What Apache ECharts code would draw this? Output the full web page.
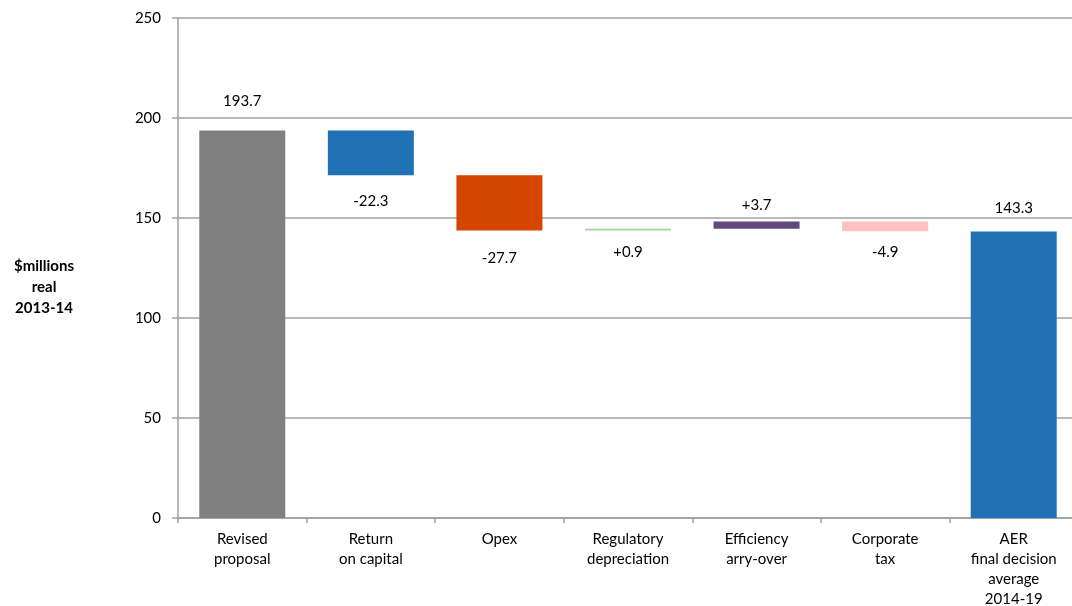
<!DOCTYPE html>
<html>
<head>
<meta charset="utf-8">
<title>Revenue waterfall</title>
<script src="https://cdn.jsdelivr.net/npm/echarts@6/dist/echarts.min.js"></script>
<style>
  html, body { margin: 0; padding: 0; background: #fff; overflow: hidden; }
  #chart { width: 1072px; height: 606px; }
</style>
</head>
<body>
<div id="chart"></div>
<script>
// Waterfall steps: first and last entries are totals, the rest are changes
var categories = [
  'Revised\nproposal',
  'Return\non capital',
  'Opex',
  'Regulatory\ndepreciation',
  'Efficiency\narry-over',
  'Corporate\ntax',
  'AER\nfinal decision\naverage\n2014-19'
];
var stepValues = [193.7, -22.3, -27.7, 0.9, 3.7, -4.9, 143.3];
var isTotal = [true, false, false, false, false, false, true];
var barColors = ['#808080', '#2171b5', '#d44500', '#a0d89b', '#604a7b', '#ffc1c1', '#2171b5'];
var yTicks = { min: 0, max: 250, interval: 50 };

// Label placement per step: side of the bar and gap in px
var labelSide = ['top', 'bottom', 'bottom', 'bottom', 'top', 'bottom', 'top'];
var labelGap = [22, 18, 20, 14, 9, 13, 16];

var baseData = [];
var barData = [];
var running = 0;
for (var i = 0; i < stepValues.length; i++) {
  var v = stepValues[i];
  var lo, hi;
  if (isTotal[i]) {
    lo = 0; hi = v; running = v;
  } else {
    var next = running + v;
    lo = Math.min(running, next);
    hi = Math.max(running, next);
    running = next;
  }
  var text = isTotal[i] ? v.toFixed(1) : (v > 0 ? '+' : '') + v.toFixed(1);
  baseData.push(lo);
  barData.push({
    value: +(hi - lo).toFixed(2),
    itemStyle: { color: barColors[i] },
    label: { position: labelSide[i], distance: labelGap[i], formatter: text }
  });
}

var fontFamily = 'Lato, "Open Sans", sans-serif';
var chart = echarts.init(document.getElementById('chart'), null, { renderer: 'canvas' });
chart.setOption({
  animation: false,
  textStyle: { fontFamily: fontFamily },
  // plot runs slightly past the right edge of the canvas
  grid: { left: 178, width: 900, top: 18, bottom: 88, containLabel: false, outerBoundsMode: 'none' },
  graphic: [{
    type: 'text',
    x: 44,
    y: 287,
    style: {
      text: '$millions\nreal\n2013-14',
      font: 'bold 15px ' + fontFamily,
      fill: '#000',
      align: 'center',
      verticalAlign: 'middle',
      lineHeight: 21
    }
  }],
  xAxis: {
    type: 'category',
    data: categories,
    axisLine: { lineStyle: { color: '#a0a0a0', width: 1.5 } },
    axisTick: { show: true, alignWithLabel: false, length: 5, lineStyle: { color: '#a0a0a0', width: 1.5 } },
    axisLabel: { color: '#000', fontSize: 15, lineHeight: 20, margin: 11, interval: 0, fontFamily: fontFamily }
  },
  yAxis: {
    type: 'value',
    min: yTicks.min,
    max: yTicks.max,
    interval: yTicks.interval,
    axisLine: { show: true, lineStyle: { color: '#a0a0a0', width: 1.5 } },
    axisTick: { show: true, length: 6, lineStyle: { color: '#a0a0a0', width: 1.5 } },
    axisLabel: { color: '#000', fontSize: 15, margin: 17, fontFamily: fontFamily },
    splitLine: { show: true, lineStyle: { color: '#a0a0a0', width: 1.5 } }
  },
  series: [
    {
      name: 'base',
      type: 'bar',
      stack: 'wf',
      barWidth: 86,
      silent: true,
      itemStyle: { color: 'transparent' },
      data: baseData
    },
    {
      name: 'step',
      type: 'bar',
      stack: 'wf',
      barWidth: 86,
      label: { show: true, color: '#000', fontSize: 15, fontFamily: fontFamily },
      data: barData
    }
  ]
});
</script>
</body>
</html>
